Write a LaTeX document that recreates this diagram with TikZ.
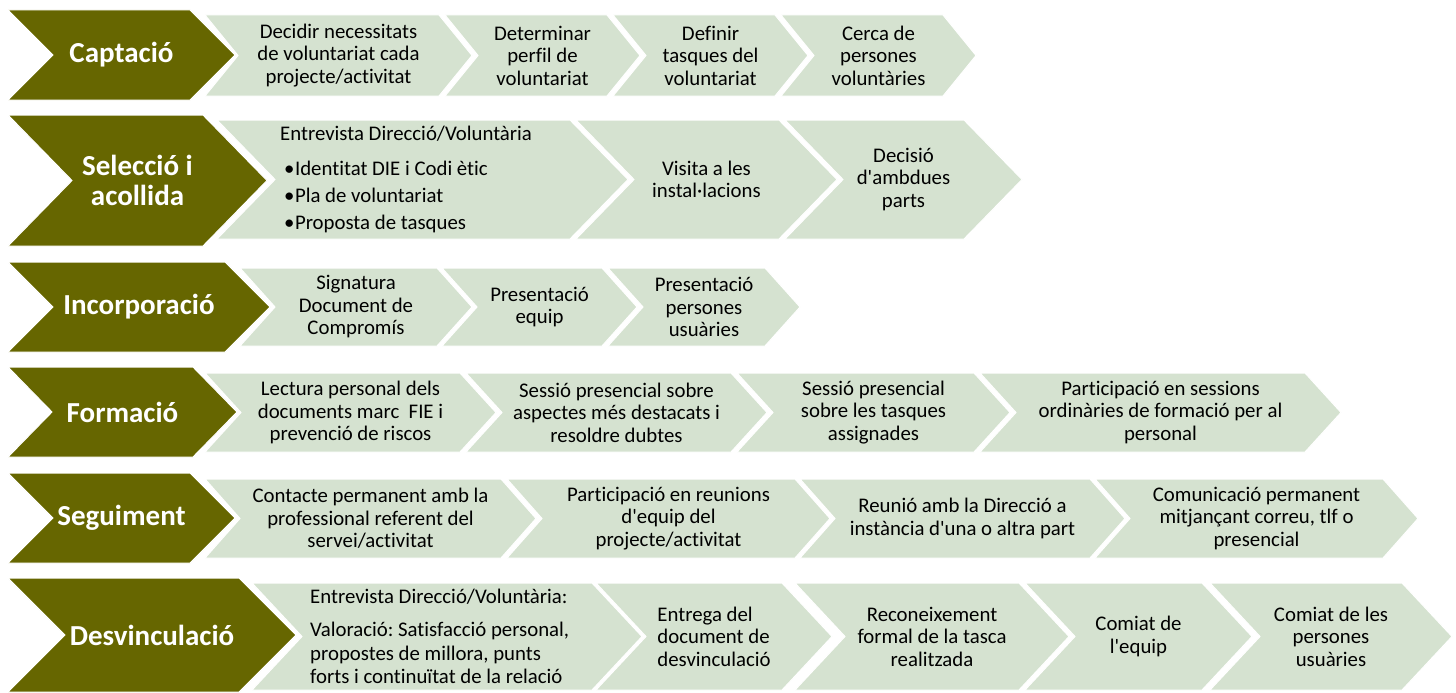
\documentclass[tikz,border=0pt]{standalone}
\usepackage{fontspec}
\setmainfont{Carlito}[Ligatures=CommonOff]
\frenchspacing

\definecolor{olivedark}{HTML}{666600}
\definecolor{sagelight}{HTML}{D5E2D0}

\tikzset{
  darkchev/.style={fill=olivedark, draw=white, line width=1pt},
  lightchev/.style={fill=sagelight, draw=white, line width=1pt},
  darklabel/.style={text=white, align=center, inner sep=0pt, font=\bfseries\fontsize{29}{30}\selectfont},
  lightlabel/.style={text=black, align=center, inner sep=0pt, font=\fontsize{20.8}{22.5}\selectfont},
}

\newcommand{\chevron}[9][]{%
  \path[#2chev] (#4,#6) -- ({#5-#8},#6) -- (#5,{(#6+#7)/2}) -- ({#5-#8},#7)
    -- (#4,#7) -- ({#4+#8},{(#6+#7)/2}) -- cycle;
  \node[#2label,#1] (#3) at ({(#4+#5)/2},{(#6+#7)/2}) {#9};
}
\newcommand{\apos}{\textquotesingle}

\begin{document}
\begin{tikzpicture}[x=1pt,y=-1pt]
\useasboundingbox[fill=white] (0,0) rectangle (1456,693);

\chevron{dark}{capt}{8}{235}{10}{100}{45}{Captació}
\chevron{light}{capt1}{205}{472}{15}{96}{33}{Decidir necessitats\\de voluntariat cada\\projecte/activitat}
\chevron{light}{capt2}{445}{640}{15}{96}{33}{Determinar\\perfil de\\voluntariat}
\chevron{light}{capt3}{613}{808}{15}{96}{33}{Definir\\tasques del\\voluntariat}
\chevron{light}{capt4}{781}{976}{15}{96}{33}{Cerca de\\persones\\voluntàries}

\chevron{dark}{sele}{8}{267}{115}{246}{64}{Selecció i\\acollida}
\chevron[align=left, anchor=west, xshift=-142.5pt]{light}{sele1}{217}{628}{120}{239}{58}{Entrevista Direcció/Voluntària\\[12pt]\hspace*{4pt}•\hspace{0.5pt}Identitat DIE i Codi ètic\\[4.5pt]\hspace*{4pt}•\hspace{0.5pt}Pla de voluntariat\\[4.5pt]\hspace*{4pt}•\hspace{0.5pt}Proposta de tasques}
\chevron{light}{sele2}{576}{837}{120}{239}{58}{Visita a les\\instal·lacions}
\chevron{light}{sele3}{785}{1022}{120}{239}{58}{Decisió\\d\apos ambdues\\parts}

\chevron{dark}{inco}{8}{270}{262}{352}{45}{Incorporació}
\chevron{light}{inco1}{240}{472}{268}{346}{35}{Signatura\\Document de\\Compromís}
\chevron{light}{inco2}{442}{637}{268}{346}{35}{Presentació\\equip}
\chevron{light}{inco3}{608}{800}{268}{346}{35}{Presentació\\persones\\usuàries}

\chevron{dark}{form}{8}{237}{367}{457}{44}{Formació}
\chevron{light}{form1}{205}{496}{373}{452}{36}{Lectura personal dels\\documents marc\ \ FIE i\\prevenció de riscos}
\chevron{light}{form2}{466}{767}{373}{452}{36}{Sessió presencial sobre\\aspectes més destacats i\\resoldre dubtes}
\chevron{light}{form3}{737}{1010}{373}{452}{36}{Sessió presencial\\sobre les tasques\\assignades}
\chevron{light}{form4}{980}{1341}{373}{452}{36}{Participació en sessions\\ordinàries de formació per al\\personal}

\chevron{dark}{segu}{8}{235}{473}{563}{45}{Seguiment}
\chevron{light}{segu1}{205}{536}{479}{558}{35}{Contacte permanent amb la\\professional referent del\\servei/activitat}
\chevron{light}{segu2}{507}{830}{479}{558}{35}{Participació en reunions\\d\apos equip del\\projecte/activitat}
\chevron{light}{segu3}{800}{1125}{479}{558}{35}{Reunió amb la Direcció a\\instància d\apos una o altra part}
\chevron{light}{segu4}{1095}{1418}{479}{558}{35}{Comunicació permanent\\mitjançant correu, tlf o\\presencial}

\chevron{dark}{desv}{8}{296}{578}{692}{57}{Desvinculació}
\chevron[align=left, anchor=west, xshift=-137pt]{light}{desv1}{252}{642}{583}{690}{50}{Entrevista Direcció/Voluntària:\\[11pt]Valoració: Satisfacció personal,\\[1pt]propostes de millora, punts\\[1pt]forts i continuïtat de la relació}
\chevron[align=left]{light}{desv2}{596}{832}{583}{690}{50}{Entrega del\\document de\\desvinculació}
\chevron{light}{desv3}{795}{1069}{583}{690}{50}{Reconeixement\\formal de la tasca\\realitzada}
\chevron{light}{desv4}{1025}{1252}{583}{690}{50}{Comiat de\\l\apos equip}
\chevron{light}{desv5}{1210}{1452}{583}{690}{50}{Comiat de les\\persones\\usuàries}
\end{tikzpicture}
\end{document}
